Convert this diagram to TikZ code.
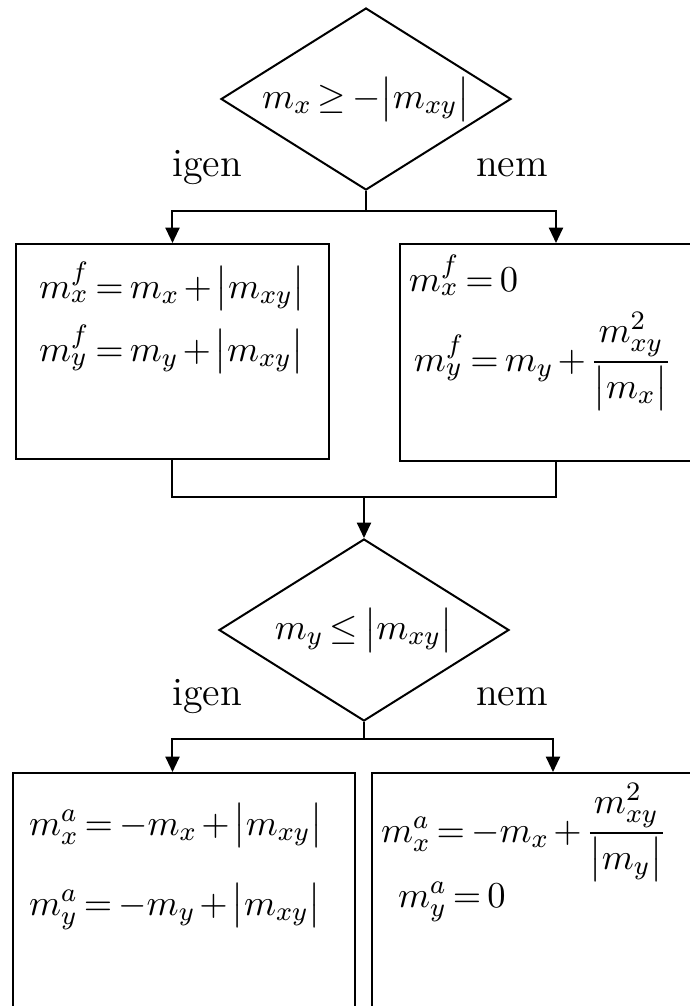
\documentclass[tikz,border=0pt]{standalone}
\usepackage{amsmath}
\usepackage{tikz}
\usetikzlibrary{shapes.geometric,arrows.meta}

\begin{document}
\begin{tikzpicture}[x=0.3pt,y=-0.3pt,line width=0.6pt,font=\large]
\tikzstyle{every node}+=[inner sep=0pt]
\tikzstyle{dec}=[draw,shape=diamond,aspect=1.6,minimum width=87pt,minimum height=54.6pt,font=\fontsize{10.95}{13}\selectfont]
\tikzstyle{box}=[draw,shape=rectangle]
\tikzstyle{eq}=[anchor=base west,font=\fontsize{10.95}{13}\selectfont]
\tikzstyle{arr}=[-{Triangle[length=4.6pt,width=4.2pt]}]
\thickmuskip=3mu \medmuskip=2mu
\clip (0,0) rectangle (690,1006);
% first decision
\node (d1) [dec] at (366,99) {$m_x \geq -\bigl|m_{xy}\bigr|$};
\node (y1) at (207,168) {igen};
\node (n1) at (512,168) {nem};
\coordinate (j1) at (366,211);
\node (b1) [box,minimum width=93.9pt,minimum height=64.5pt] at (172.5,351.5) {};
\node (b2) [box,minimum width=93.6pt,minimum height=65.1pt] at (556,352.5) {};
\node (e1) [eq] at (38,298) {$m_x^f = m_x + \bigl|m_{xy}\bigr|$};
\node (e2) [eq] at (38,361) {$m_y^f = m_y + \bigl|m_{xy}\bigr|$};
\node (e3) [eq] at (408,291) {$m_x^f = 0$};
\node (e4) [eq] at (413,371) {$m_y^f = m_y + \dfrac{m_{xy}^2}{\bigl|m_x\bigr|}$};
\draw (d1.south) -- (j1);
\draw [arr] (j1) -| (b1.north);
\draw [arr] (j1) -| (b2.north);
% merge
\coordinate (j3) at (364,497);
\draw (b1.south) |- (j3) -| (b2.south);
% second decision
\node (d2) [dec] at (364,630) {$m_y \leq \bigl|m_{xy}\bigr|$};
\draw [arr] (j3) -- (d2.north);
\node (y2) at (207,697) {igen};
\node (n2) at (512,697) {nem};
\coordinate (j2) at (364,739);
\node (b3) [box,minimum width=102.6pt,minimum height=77.1pt] at (184,901.5) {};
\node (b4) [box,minimum width=108.6pt,minimum height=77.1pt] at (553,901.5) {};
\node (e5) [eq] at (28,835) {$m_x^a = -m_x + \bigl|m_{xy}\bigr|$};
\node (e6) [eq] at (28,915) {$m_y^a = -m_y + \bigl|m_{xy}\bigr|$};
\node (e7) [eq] at (380,842) {$m_x^a = -m_x + \dfrac{m_{xy}^2}{\bigl|m_y\bigr|}$};
\node (e8) [eq] at (397,907) {$m_y^a = 0$};
\draw (d2.south) -- (j2);
\draw [arr] (j2) -| (b3.north -| b1.north);
\draw [arr] (j2) -| (b4.north);
\end{tikzpicture}
\end{document}
